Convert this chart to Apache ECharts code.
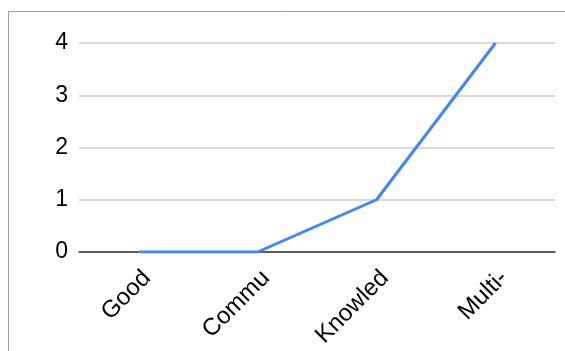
<!DOCTYPE html>
<html><head><meta charset="utf-8">
<script src="https://cdn.jsdelivr.net/npm/echarts@6/dist/echarts.min.js"></script>
<style>html,body{margin:0;padding:0;background:#fff}#c{width:565px;height:351px}</style>
</head><body><div id="c"></div>
<script>
const categories = ["Good", "Commu", "Knowled", "Multi-"];
const values = [0, 0, 1, 4];
const yTicks = [0, 1, 2, 3, 4];

const chart = echarts.init(document.getElementById('c'), null, {renderer: 'canvas'});
chart.setOption({
  animation: false,
  backgroundColor: '#fff',
  graphic: [{
    type: 'rect', shape: {x: 8.5, y: 11.5, width: 600, height: 400},
    style: {fill: 'none', stroke: '#9e9e9e', lineWidth: 1}, silent: true
  }],
  grid: {left: 79, right: 10, top: 43, bottom: 99, containLabel: false},
  xAxis: {
    type: 'category', data: categories, boundaryGap: true,
    axisLine: {show: true, lineStyle: {color: '#333', width: 1.5}},
    axisTick: {show: false},
    axisLabel: {rotate: 45, color: '#000', fontSize: 24, fontFamily: 'Liberation Sans, Arial', margin: 14, interval: 0, verticalAlign: 'top'}
  },
  yAxis: {
    type: 'value', min: yTicks[0], max: yTicks[yTicks.length - 1], interval: 1,
    axisLine: {show: false}, axisTick: {show: false},
    splitLine: {lineStyle: {color: '#cccccc', width: 1.5}},
    axisLabel: {color: '#000', fontSize: 23, fontFamily: 'Liberation Sans, Arial', margin: 11}
  },
  series: [{
    type: 'line', data: values, symbol: 'none',
    lineStyle: {color: '#4285f4', width: 3}
  }]
});
</script></body></html>
